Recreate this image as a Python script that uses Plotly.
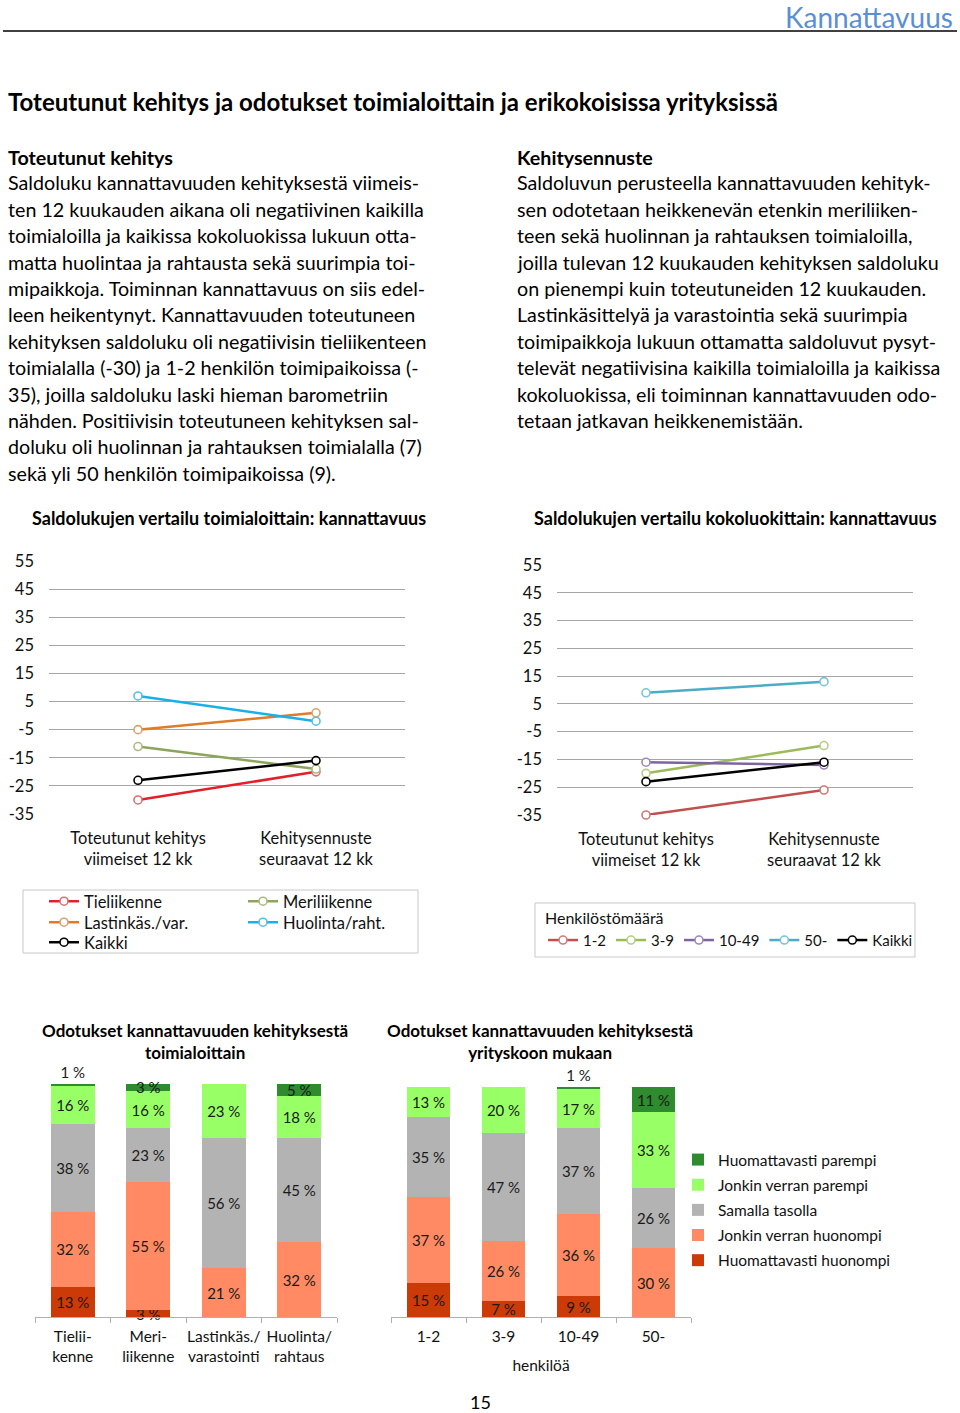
import plotly.graph_objects as go

W, H = 960, 1413
FONT = "Lato"

# ---------------- data ----------------
line_categories = ["Toteutunut kehitys<br>viimeiset 12 kk", "Kehitysennuste<br>seuraavat 12 kk"]

tieliikenne = [-30, -20]
lastinkas = [-5, 1]
kaikki_ind = [-23, -16]
meriliikenne = [-11, -19]
huolinta = [7, -2]

size_1_2 = [-35, -26]
size_3_9 = [-20, -10]
size_10_49 = [-16, -17]
size_50 = [9, 13]
kaikki_size = [-23, -16]

y_ticks = [55, 45, 35, 25, 15, 5, -5, -15, -25, -35]
y_tick_labels = ["55", "45", "35", "25", "15", "5", "-5", "-15", "-25", "-35"]

bar_series = ["Huomattavasti huonompi", "Jonkin verran huonompi", "Samalla tasolla",
              "Jonkin verran parempi", "Huomattavasti parempi"]
ind_categories = ["Tielii-<br>kenne", "Meri-<br>liikenne", "Lastinkäs./<br>varastointi", "Huolinta/<br>rahtaus"]
ind_huom_huonompi = [13, 3, 0, 0]
ind_jv_huonompi = [32, 55, 21, 32]
ind_samalla = [38, 23, 56, 45]
ind_jv_parempi = [16, 16, 23, 18]
ind_huom_parempi = [1, 3, 0, 5]

size_categories = ["1-2", "3-9", "10-49", "50-"]
sz_huom_huonompi = [15, 7, 9, 0]
sz_jv_huonompi = [37, 26, 36, 30]
sz_samalla = [35, 47, 37, 26]
sz_jv_parempi = [13, 20, 17, 33]
sz_huom_parempi = [1, 0, 1, 11]

left_par = [
    "Saldoluku kannattavuuden kehityksestä viimeis-",
    "ten 12 kuukauden aikana oli negatiivinen kaikilla",
    "toimialoilla ja kaikissa kokoluokissa lukuun otta-",
    "matta huolintaa ja rahtausta sekä suurimpia toi-",
    "mipaikkoja. Toiminnan kannattavuus on siis edel-",
    "leen heikentynyt. Kannattavuuden toteutuneen",
    "kehityksen saldoluku oli negatiivisin tieliikenteen",
    "toimialalla (-30) ja 1-2 henkilön toimipaikoissa (-",
    "35), joilla saldoluku laski hieman barometriin",
    "nähden. Positiivisin toteutuneen kehityksen sal-",
    "doluku oli huolinnan ja rahtauksen toimialalla (7)",
    "sekä yli 50 henkilön toimipaikoissa (9).",
]
right_par = [
    "Saldoluvun perusteella kannattavuuden kehityk-",
    "sen odotetaan heikkenevän etenkin meriliiken-",
    "teen sekä huolinnan ja rahtauksen toimialoilla,",
    "joilla tulevan 12 kuukauden kehityksen saldoluku",
    "on pienempi kuin toteutuneiden 12 kuukauden.",
    "Lastinkäsittelyä ja varastointia sekä suurimpia",
    "toimipaikkoja lukuun ottamatta saldoluvut pysyt-",
    "televät negatiivisina kaikilla toimialoilla ja kaikissa",
    "kokoluokissa, eli toiminnan kannattavuuden odo-",
    "tetaan jatkavan heikkenemistään.",
]

# ---------------- helpers ----------------
def px(x):
    return x / W

def py(y):
    return 1 - y / H

fig = go.Figure()

# ---- line chart 1 (industries) ----
ind_series = [
    ("Tieliikenne", tieliikenne, "#e3202a", "#d9706f", "legend"),
    ("Meriliikenne", meriliikenne, "#8ca55a", "#a9bb80", "legend"),
    ("Lastinkäs./var.", lastinkas, "#e07b28", "#d9a070", "legend2"),
    ("Huolinta/raht.", huolinta, "#1ab0e6", "#50c0e8", "legend2"),
    ("Kaikki", kaikki_ind, "#000000", "#000000", "legend3"),
]
for name, vals, col, mcol, lg in ind_series:
    fig.add_trace(go.Scatter(
        x=line_categories, y=vals, name=name, mode="lines+markers",
        line=dict(color=col, width=2.5),
        marker=dict(symbol="circle", size=8, color="white", line=dict(color=mcol, width=1.6)),
        xaxis="x", yaxis="y", legend=lg, cliponaxis=False))

size_series = [
    ("1-2", size_1_2, "#c0504d", "#d07a78"),
    ("3-9", size_3_9, "#9bbb59", "#b5cd85"),
    ("10-49", size_10_49, "#8064a2", "#9d88b8"),
    ("50-", size_50, "#4bacc6", "#7cc3d6"),
    ("Kaikki", kaikki_size, "#000000", "#000000"),
]
for name, vals, col, mcol in size_series:
    fig.add_trace(go.Scatter(
        x=line_categories, y=vals, name=name, mode="lines+markers",
        line=dict(color=col, width=2.5),
        marker=dict(symbol="circle", size=8, color="white", line=dict(color=mcol, width=1.6)),
        xaxis="x2", yaxis="y2", legend="legend4", cliponaxis=False))

# ---- bar charts ----
bar_colors = ["#cc3a08", "#ff8a64", "#b3b3b3", "#99ff66", "#2e8b2e"]
ind_data = [ind_huom_huonompi, ind_jv_huonompi, ind_samalla, ind_jv_parempi, ind_huom_parempi]
sz_data = [sz_huom_huonompi, sz_jv_huonompi, sz_samalla, sz_jv_parempi, sz_huom_parempi]

def labels(vals):
    return [f"{v} %" if v > 0 else "" for v in vals]

for i, (name, col) in enumerate(zip(bar_series, bar_colors)):
    top = i == len(bar_series) - 1
    vals = ind_data[i]
    pos = ["outside" if (top and v == 1) else "inside" for v in vals]
    fig.add_trace(go.Bar(
        x=ind_categories, y=vals, name=name, marker=dict(color=col, line=dict(width=0)),
        text=labels(vals), textposition=pos, insidetextanchor="middle", textangle=0,
        textfont=dict(family=FONT, size=15, color="#1a1a1a"),
        xaxis="x3", yaxis="y3", width=0.58, legend="legend5", legendgroup=name,
        legendrank=100 - i, cliponaxis=False, hoverinfo="skip"))
    vals = sz_data[i]
    pos = ["outside" if (top and v == 1) else "inside" for v in vals]
    fig.add_trace(go.Bar(
        x=size_categories, y=vals, name=name, marker=dict(color=col, line=dict(width=0)),
        text=labels(vals), textposition=pos, insidetextanchor="middle", textangle=0,
        textfont=dict(family=FONT, size=15, color="#1a1a1a"),
        xaxis="x4", yaxis="y4", width=0.57, showlegend=False, legendgroup=name,
        cliponaxis=False, hoverinfo="skip"))

# ---------------- axes ----------------
grid = "#a6a6a6"
line_x = dict(type="category", showgrid=False, showline=False, zeroline=False, ticks="",
              tickfont=dict(family=FONT, size=16.5, color="#111"), range=[-0.5, 1.5],
              ticklabelstandoff=12, automargin=False, fixedrange=True)
line_y = dict(range=[-35, 55], tickvals=y_ticks, ticktext=y_tick_labels, showgrid=True,
              gridcolor=grid, gridwidth=1.2, zeroline=False, showline=False, ticks="",
              tickfont=dict(family=FONT, size=16.5, color="#111"),
              ticklabelstandoff=14, automargin=False, fixedrange=True)

bar_x = dict(type="category", showline=True, linecolor="#b0b0b0", linewidth=1, ticks="outside",
             tickson="boundaries", ticklen=5, tickcolor="#b0b0b0", showgrid=False, tickangle=0,
             ticklabelstandoff=5,
             tickfont=dict(family=FONT, size=15.5, color="#111"), automargin=False, fixedrange=True)
bar_y = dict(range=[0, 100], visible=False, automargin=False, fixedrange=True)

legend_font = dict(family=FONT, size=16.5, color="#111")
row_legend = dict(xanchor="left", yanchor="top", orientation="h", bgcolor="rgba(0,0,0,0)",
                  font=legend_font, entrywidth=154, entrywidthmode="pixels", traceorder="normal")

fig.update_layout(
    width=W, height=H, margin=dict(l=0, r=0, t=0, b=0, autoexpand=False),
    paper_bgcolor="white", plot_bgcolor="white",
    font=dict(family=FONT, color="#000"),
    barmode="stack", bargap=0.42,
    uniformtext=dict(mode="show", minsize=15),
    xaxis=dict(line_x, domain=[px(49), px(405)], anchor="y"),
    yaxis=dict(line_y, domain=[py(814), py(561)], anchor="x"),
    xaxis2=dict(line_x, domain=[px(557), px(913)], anchor="y2"),
    yaxis2=dict(line_y, domain=[py(815), py(565)], anchor="x2"),
    xaxis3=dict(bar_x, domain=[px(35), px(337)], anchor="y3"),
    yaxis3=dict(bar_y, domain=[py(1317), py(1084)], anchor="x3"),
    xaxis4=dict(bar_x, domain=[px(391), px(691)], anchor="y4",
                title=dict(text="henkilöä", font=dict(family=FONT, size=15.5, color="#111"), standoff=16)),
    yaxis4=dict(bar_y, domain=[py(1317), py(1087)], anchor="x4"),
    legend=dict(row_legend, x=px(44), y=py(884)),
    legend2=dict(row_legend, x=px(44), y=py(905)),
    legend3=dict(row_legend, x=px(44), y=py(925)),
    legend4=dict(x=px(543), y=py(903), xanchor="left", yanchor="top", orientation="h",
                 bgcolor="rgba(0,0,0,0)", font=dict(family=FONT, size=15, color="#111"),
                 traceorder="normal",
                 title=dict(text="Henkilöstömäärä", side="top", font=dict(family=FONT, size=16, color="#111"))),
    legend5=dict(x=px(678), y=py(1143), xanchor="left", yanchor="top", bgcolor="rgba(0,0,0,0)",
                 font=dict(family=FONT, size=15.5, color="#111"), tracegroupgap=2,
                 traceorder="grouped", itemwidth=30),
)

# ---------------- shapes ----------------
shapes = [
    dict(type="line", xref="paper", yref="paper", x0=px(3), x1=px(957), y0=py(31), y1=py(31),
         line=dict(color="#000", width=1.5)),
    dict(type="rect", xref="paper", yref="paper", x0=px(23), x1=px(418), y0=py(890), y1=py(953),
         line=dict(color="#c8c8c8", width=1)),
    dict(type="rect", xref="paper", yref="paper", x0=px(535), x1=px(915), y0=py(903), y1=py(957),
         line=dict(color="#c8c8c8", width=1)),
]
fig.update_layout(shapes=shapes)

# ---------------- text ----------------
ann = []

def txt(x, y, s, size=19.7, bold=False, anchor="left", color="#000"):
    ann.append(dict(x=px(x), y=py(y), xref="paper", yref="paper", text=(f"<b>{s}</b>" if bold else s),
                    showarrow=False, xanchor=anchor, yanchor="middle", align=anchor,
                    font=dict(family=FONT, size=size, color=color)))

txt(955, 17, "Kannattavuus", size=28, anchor="right", color="#5b8fd4")
txt(6, 101, "Toteutunut kehitys ja odotukset toimialoittain ja erikokoisissa yrityksissä", size=24, bold=True)
txt(6, 157, "Toteutunut kehitys", bold=True)
txt(515, 157, "Kehitysennuste", bold=True)
for i, s in enumerate(left_par):
    txt(6, 183 + i * 26.4, s)
for i, s in enumerate(right_par):
    txt(515, 183 + i * 26.4, s)

txt(229, 518, "Saldolukujen vertailu toimialoittain: kannattavuus", size=18, bold=True, anchor="center")
txt(735, 518, "Saldolukujen vertailu kokoluokittain: kannattavuus", size=18, bold=True, anchor="center")
txt(195, 1041, "Odotukset kannattavuuden kehityksestä<br>toimialoittain", size=17, bold=True, anchor="center")
txt(540, 1041, "Odotukset kannattavuuden kehityksestä<br>yrityskoon mukaan", size=17, bold=True, anchor="center")
txt(480, 1402, "15", size=18, anchor="center")

fig.update_layout(annotations=ann)

fig.write_html("out.html", config={"displayModeBar": False},
               post_script="document.body.style.margin='0px';")
